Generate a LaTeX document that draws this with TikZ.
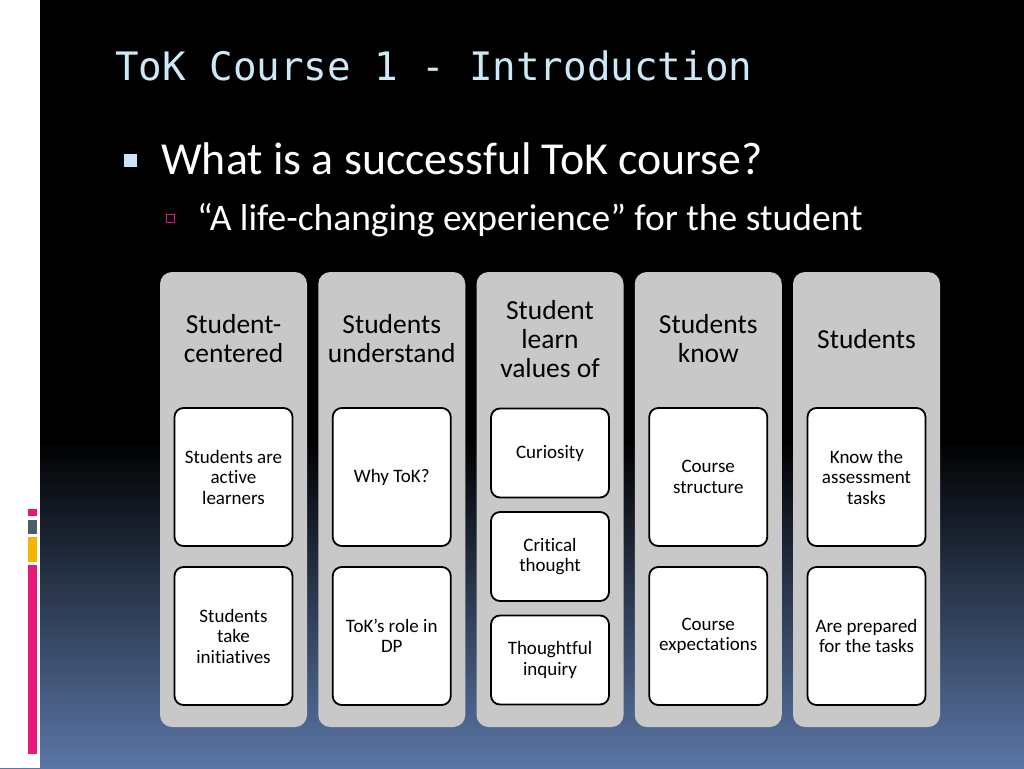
\documentclass[tikz,border=0pt]{standalone}
\usepackage{fontspec}
\setmainfont{Carlito}[Ligatures={NoCommon}]
\newfontfamily\titlefont{DejaVu Sans Mono}
\definecolor{titleblue}{RGB}{205,232,246}
\definecolor{bulletblue}{RGB}{204,228,247}
\definecolor{subpink}{RGB}{224,24,122}
\definecolor{colgray}{RGB}{200,200,200}
\definecolor{bottomblue}{RGB}{90,118,166}
\definecolor{barpink}{RGB}{230,25,120}
\definecolor{bargray}{RGB}{78,92,112}
\definecolor{baryellow}{RGB}{245,180,0}
\tikzset{
  colbox/.style={draw=none, fill=colgray, rounded corners=12pt, minimum width=147pt, minimum height=455pt, inner sep=0pt},
  hdr/.style={align=center, font=\fontsize{27.5}{29}\selectfont, text=black, inner sep=0pt},
  itembox/.style={draw=black, line width=1.8pt, fill=white, rounded corners=9pt, minimum width=118pt, align=center, font=\fontsize{19}{20.5}\selectfont, inner sep=2pt},
  tall/.style={minimum height=138pt},
  short/.style={minimum height=89pt},
}
\begin{document}
\begin{tikzpicture}[x=1pt,y=-1pt]
\useasboundingbox (0,0) rectangle (1024,768);
% background
\fill[black] (0,0) rectangle (1024,768);
\shade[top color=black, bottom color=bottomblue] (0,440) rectangle (1024,768);
% left strip
\fill[white] (0,0) rectangle (40,768);
\fill[barpink] (28,509) rectangle (37,516);
\fill[bargray] (28,520) rectangle (37,534);
\fill[baryellow] (28,537) rectangle (37,562);
\fill[barpink] (28,565) rectangle (37,754);
% title
\node[anchor=base west, inner sep=0pt, text=titleblue, font=\titlefont\fontsize{39.2}{44}\selectfont] (title) at (115,80) {ToK Course 1 - Introduction};
% bullets
\node[fill=bulletblue, minimum size=13pt, inner sep=0pt] (bul1) at (130.5,160) {};
\node[anchor=base west, inner sep=0pt, text=white, font=\fontsize{45.8}{54}\selectfont] (t1) at (161,174) {What is a successful ToK course?};
\node[draw=subpink, line width=1.3pt, minimum size=8pt, inner sep=0pt] (bul2) at (170.5,218.5) {};
\node[anchor=base west, inner sep=0pt, text=white, font=\fontsize{37.5}{45}\selectfont] (t2) at (197,230) {“A life-changing experience” for the student};
% columns
\foreach \i/\cx in {1/233.5,2/391.75,3/550,4/708.25,5/866.5}{
  \node[colbox] (col\i) at (\cx,499.5) {};
}
\node[hdr] (h1) at (233.5,339) {Student-\\centered};
\node[hdr] (h2) at (391.75,339) {Students\\understand};
\node[hdr] (h3) at (550,339) {Student\\learn\\values of};
\node[hdr] (h4) at (708.25,339) {Students\\know};
\node[hdr] (h5) at (866.5,339) {Students};
% items
\node[itembox, tall] (b11) at (233.5,477) {Students are\\active\\learners};
\node[itembox, tall] (b12) at (233.5,636) {Students\\take\\initiatives};
\node[itembox, tall] (b21) at (391.75,477) {Why ToK?};
\node[itembox, tall] (b22) at (391.75,636) {ToK’s role in\\DP};
\node[itembox, short] (b31) at (550,453) {Curiosity};
\node[itembox, short] (b32) at (550,556.5) {Critical\\thought};
\node[itembox, short] (b33) at (550,660) {Thoughtful\\inquiry};
\node[itembox, tall] (b41) at (708.25,477) {Course\\structure};
\node[itembox, tall] (b42) at (708.25,636) {Course\\expectations};
\node[itembox, tall] (b51) at (866.5,477) {Know the\\assessment\\tasks};
\node[itembox, tall] (b52) at (866.5,636) {Are prepared\\for the tasks};
\end{tikzpicture}
\end{document}
